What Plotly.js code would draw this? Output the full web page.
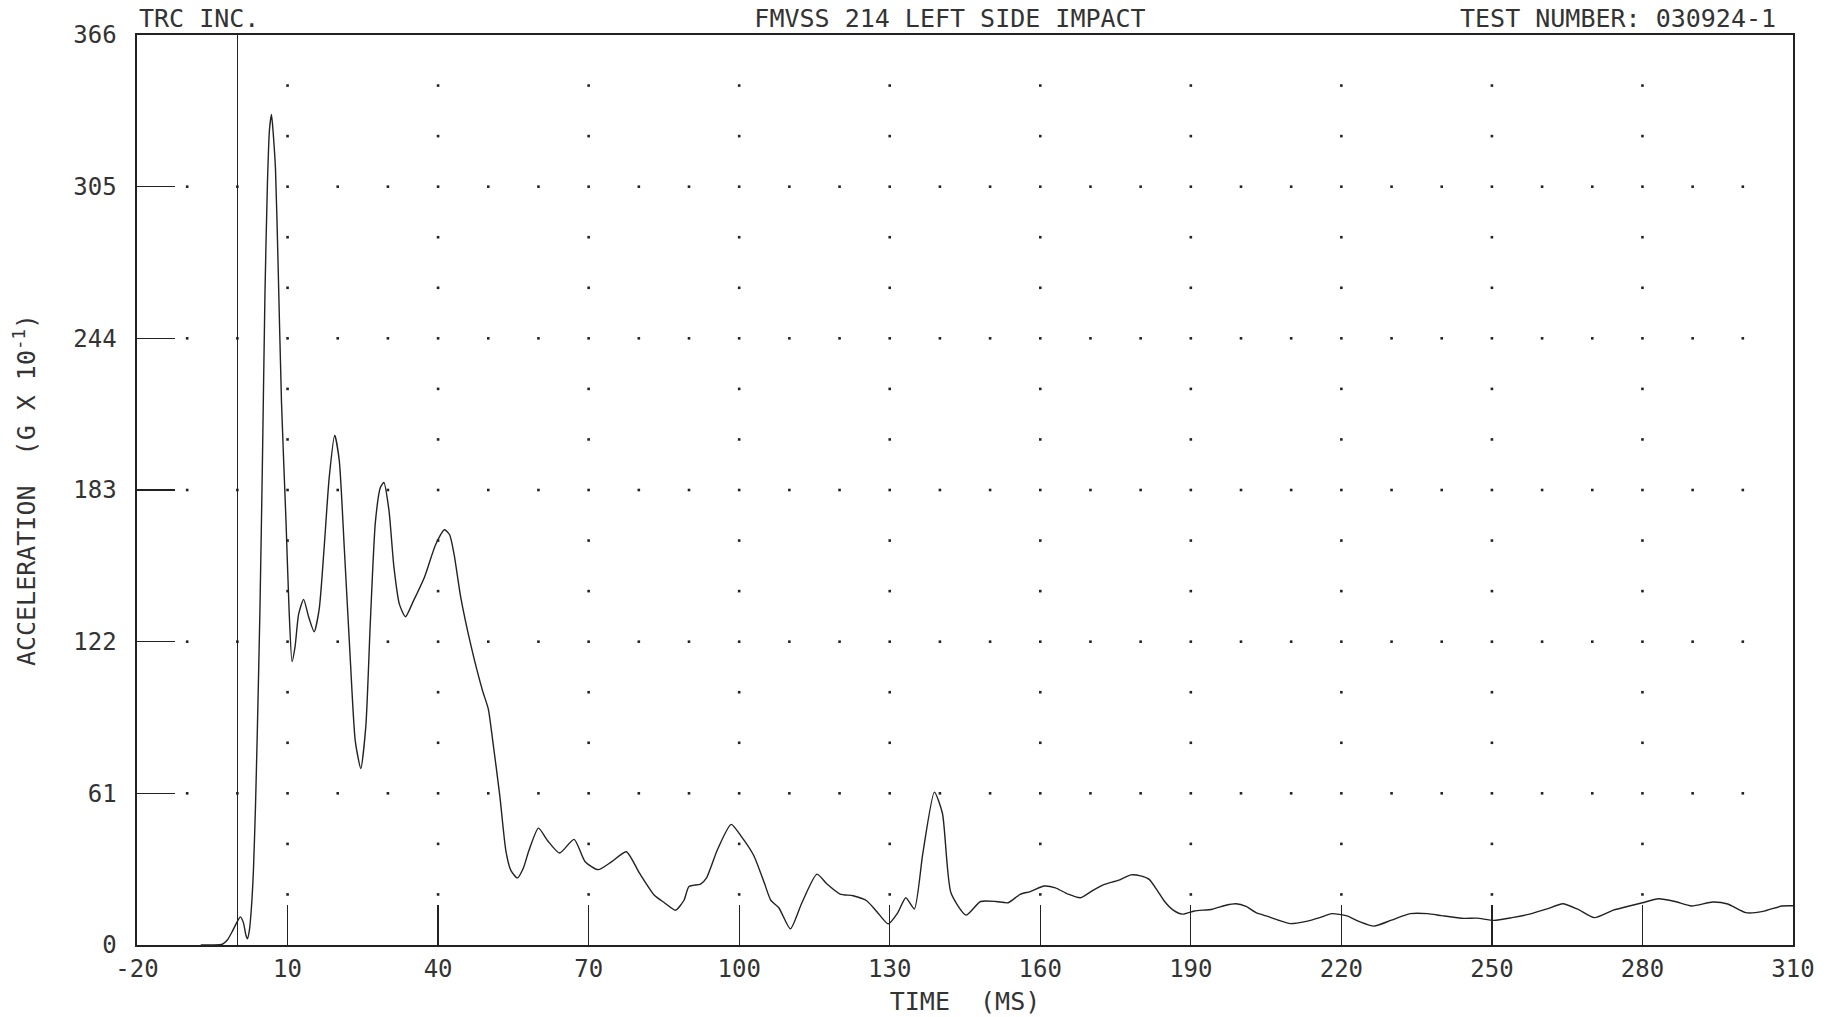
<!DOCTYPE html>
<html>
<head>
<meta charset="utf-8">
<script src="https://cdn.plot.ly/plotly-3.0.1.min.js"></script>
<style>
html,body{margin:0;padding:0;background:#fff;}
#chart{width:1839px;height:1017px;}
</style>
</head>
<body>
<div id="chart"></div>
<script>
// ---- data ----
const timeMs = [-7.3,-5,-3,-2,-1,0,0.6,1.2,1.7,2.0,2.4,2.8,3.2,3.6,4.0,4.5,5.0,5.5,6.0,6.4,6.8,7.2,7.6,8.1,8.8,9.7,10.3,10.9,11.5,12.2,13.2,14.2,15.3,16.3,17.3,18.3,19.4,20.3,21.3,22.5,23.5,24.6,25.6,26.5,27.5,28.5,29.2,30.2,31.2,32.3,33.5,35.0,37.3,39.5,41.3,42.3,43.2,44.5,46.6,48.9,50.0,50.9,52.3,53.5,54.5,55.8,57.0,58.1,60.0,61.8,64.2,67.1,69.3,71.9,74.6,77.5,80.1,83.1,85.1,87.3,89.0,90.0,92.3,93.5,95.7,98.4,100.3,102.9,105,106.3,107.9,110.2,112.5,115.5,117.5,120.1,122.7,125.4,127.4,129.7,131.6,133.2,134.9,136.6,138.9,140.5,142.2,145.2,148.1,151.2,153.6,156,158,160.8,163,165.5,168,170.5,172.8,175.5,178.1,180,181.7,183.3,184.7,186.5,188.3,190.7,194.3,197,199,201,203,205,209.8,213,215.7,218.1,221.1,223.5,226.5,230,233.7,237.2,240,244.4,247,250.4,254,257.5,261,264.1,267,270.4,274.2,278,280,283.2,286.5,289.8,294,297,300.6,304,307.8,310];
const accelGx10 = [0,0,0.3,2,5.5,9.5,11.3,9,4,2.5,6,15,30,55,88,135,195,262,307,328,334,325,312,275,218,170,135,114,120,133,139,132,126,135,160,188,205,195,160,115,82,71,88,130,170,184,186,175,152,137,132,138,148,161,167,165,157,140,120,102,95,82,60,38,30,27,31,38,47,42,37,42.5,33.5,30.3,33.5,37.5,29,20,17,14,18,23.5,24.5,27,38.5,48.5,44,36,25,18,15,6.5,17,28.5,24.5,20.5,19.8,17.8,13.5,8.5,13,19,14.5,37,61.5,53,21,12,17.5,17.5,17,20.4,21.5,23.7,23,20.5,19,22,24.4,26,28.2,27.8,26.4,22,17.7,14,12.4,13.7,14.4,16,16.6,15.5,13,11.7,8.6,9.5,11,12.6,11.7,9.5,7.6,10,12.6,12.6,11.8,10.7,10.8,9.9,11,12.4,14.5,16.6,14.5,11,14,16,17,18.6,17.5,15.7,17.3,16.5,13,13.5,15.7,15.8];

const xTickVals = [-20,10,40,70,100,130,160,190,220,250,280,310];
const xTickText = ["-20","10","40","70","100","130","160","190","220","250","280","310"];
const yTickVals = [0,61,122,183,244,305,366];
const yTickText = ["0","61","122","183","244","305","366"];

const headerLeft = "TRC INC.";
const headerTitle = "FMVSS 214 LEFT SIDE IMPACT";
const headerRight = "TEST NUMBER: 030924-1";
const xTitle = "TIME\u00a0\u00a0(MS)";
const yTitle = "ACCELERATION\u00a0\u00a0(G X 10<sup>-1</sup>)";

// ---- dotted plotter grid built from the tick arrays ----
const gx = [], gy = [];
const xStep = (xTickVals[1] - xTickVals[0]) / 3;
const yStep = (yTickVals[1] - yTickVals[0]) / 3;
const xMin = xTickVals[0], xMax = xTickVals[xTickVals.length - 1];
const yMin = yTickVals[0], yMax = yTickVals[yTickVals.length - 1];
// major rows: dot every 10 ms
for (let j = 1; j < yTickVals.length - 1; j++) {
  for (let x = xMin + xStep; x < xMax - 1e-6; x += xStep) { gx.push(x); gy.push(yTickVals[j]); }
}
// minor rows: dot at each x tick
for (let y = yMin + yStep; y < yMax - 1e-6; y += yStep) {
  const isMajor = Math.abs(y / (yStep * 3) - Math.round(y / (yStep * 3))) < 1e-6;
  if (isMajor) continue;
  for (let i = 1; i < xTickVals.length - 1; i++) { gx.push(xTickVals[i]); gy.push(y); }
}

const ink = "#222";
const textInk = "#333";
const fontFam = "DejaVu Sans Mono, Liberation Mono, monospace";

const traces = [
  {x: gx, y: gy, type: "scatter", mode: "markers", hoverinfo: "skip",
   marker: {size: 2.6, color: ink, symbol: "square"}},
  {x: timeMs, y: accelGx10, type: "scatter", mode: "lines",
   line: {color: ink, width: 1.4, shape: "spline", smoothing: 0.6}}
];

const layout = {
  width: 1839, height: 1017,
  margin: {l: 137, r: 46, t: 35, b: 72, pad: 0},
  paper_bgcolor: "#fff", plot_bgcolor: "#fff",
  showlegend: false,
  font: {family: fontFam, color: textInk, size: 24},
  title: {text: headerTitle, x: 950/1839, xanchor: "center", xref: "container",
          y: 1 - 18/1017, yanchor: "middle", yref: "container",
          font: {family: fontFam, size: 25, color: textInk}},
  xaxis: {range: [xMin, xMax], tickvals: xTickVals, ticktext: xTickText,
          ticks: "inside", ticklen: 40, tickwidth: 1.2, tickcolor: ink,
          showline: true, mirror: true, linecolor: ink, linewidth: 1.6,
          showgrid: false, zeroline: true, zerolinecolor: ink, zerolinewidth: 1.3,
          tickfont: {family: fontFam, size: 24, color: textInk},
          ticklabelstandoff: 2,
          title: {text: xTitle, standoff: 10, font: {family: fontFam, size: 25, color: textInk}}},
  yaxis: {range: [yMin, yMax], tickvals: yTickVals, ticktext: yTickText,
          ticks: "inside", ticklen: 38, tickwidth: 1.2, tickcolor: ink,
          showline: true, mirror: true, linecolor: ink, linewidth: 1.6,
          showgrid: false, zeroline: false,
          tickfont: {family: fontFam, size: 24, color: textInk},
          ticklabelstandoff: 14,
          title: {text: yTitle, standoff: 30, font: {family: fontFam, size: 25, color: textInk}}},
  annotations: [
    {text: headerLeft, xref: "paper", yref: "paper", x: 0, xanchor: "left",
     y: 1 + 17/910, yanchor: "middle", showarrow: false,
     font: {family: fontFam, size: 25, color: textInk}},
    {text: headerRight, xref: "paper", yref: "paper", x: 1 - 15/1656, xanchor: "right",
     y: 1 + 17/910, yanchor: "middle", showarrow: false,
     font: {family: fontFam, size: 25, color: textInk}}
  ]
};

Plotly.newPlot("chart", traces, layout, {displayModeBar: false, staticPlot: true});
</script>
</body>
</html>
